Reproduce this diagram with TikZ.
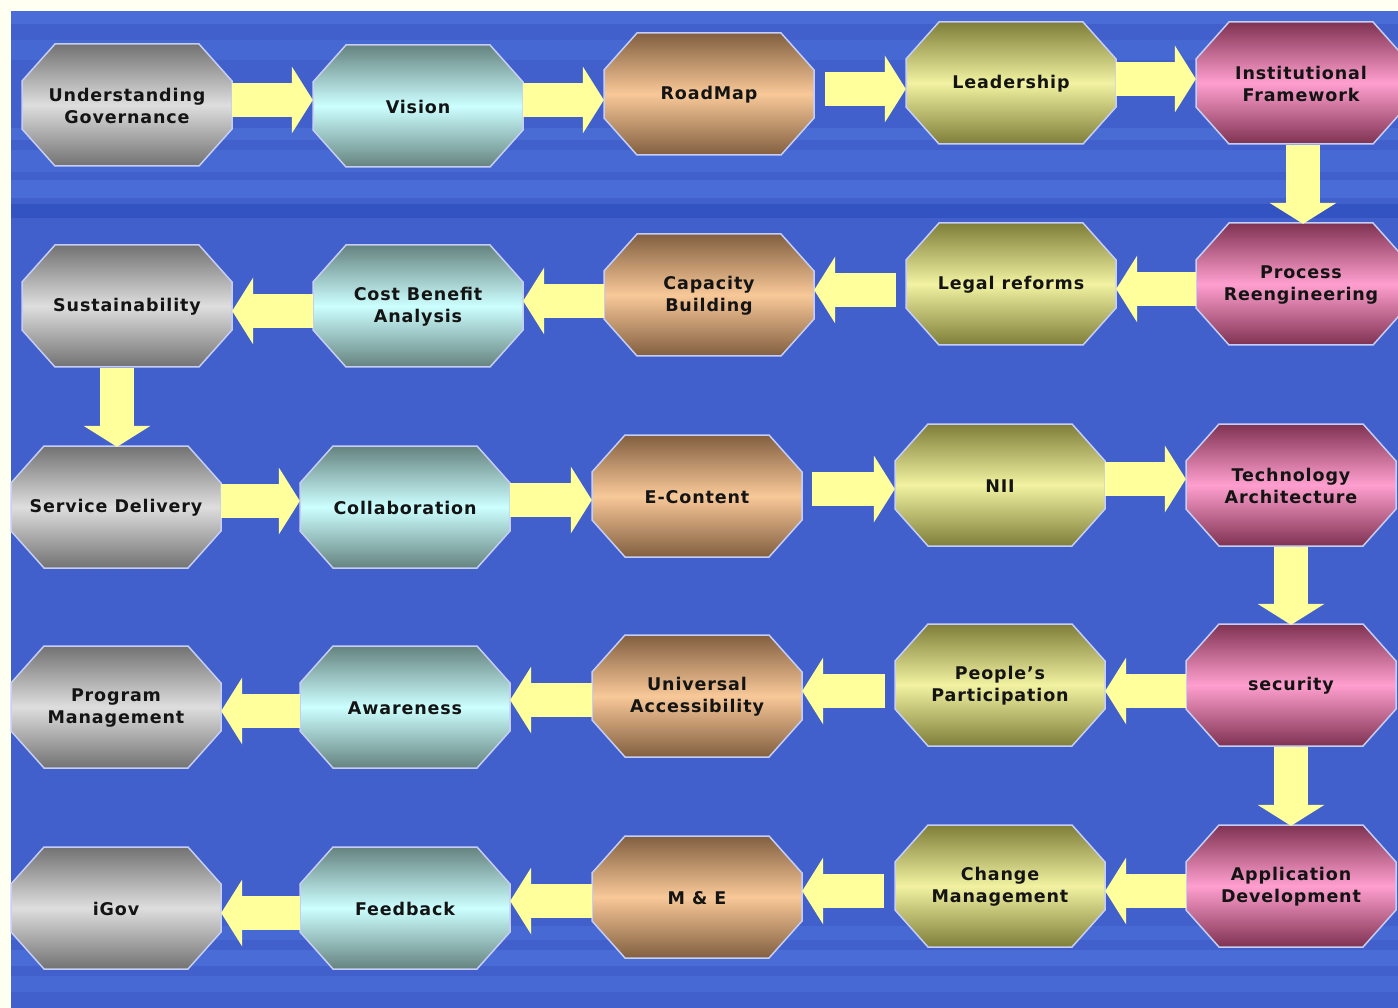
\documentclass[tikz,border=0pt]{standalone}
\usepackage{fontspec}
\setmainfont{DejaVu Sans}[LetterSpace=5]
\usetikzlibrary{arrows.meta}
\definecolor{cream}{HTML}{FFFFF2}
\definecolor{bgblue}{HTML}{4160CC}
\definecolor{bglight}{HTML}{4B6FD8}
\definecolor{bgdark}{HTML}{3453C2}
\definecolor{arrowyel}{HTML}{FFFF9C}
\definecolor{bordc}{HTML}{C6CEF6}
\definecolor{grayE}{HTML}{727272}\definecolor{grayM}{HTML}{DEDEDE}
\definecolor{cyanE}{HTML}{65837F}\definecolor{cyanM}{HTML}{CCFFFF}
\definecolor{tanE}{HTML}{825F40}\definecolor{tanM}{HTML}{F8C898}
\definecolor{oliveE}{HTML}{7E7E39}\definecolor{oliveM}{HTML}{F2F2A2}
\definecolor{pinkE}{HTML}{7F3251}\definecolor{pinkM}{HTML}{FF9FCF}
\tikzset{
  octgray/.style={draw=bordc,line width=1.5pt,top color=grayE,bottom color=grayE,middle color=grayM},
  octcyan/.style={draw=bordc,line width=1.5pt,top color=cyanE,bottom color=cyanE,middle color=cyanM},
  octtan/.style={draw=bordc,line width=1.5pt,top color=tanE,bottom color=tanE,middle color=tanM},
  octolive/.style={draw=bordc,line width=1.5pt,top color=oliveE,bottom color=oliveE,middle color=oliveM},
  octpink/.style={draw=bordc,line width=1.5pt,top color=pinkE,bottom color=pinkE,middle color=pinkM},
  lbl/.style={rectangle,minimum width=210pt,minimum height=122pt,inner sep=0pt,align=center,
    font=\bfseries\fontsize{17.5}{22}\selectfont,text=black!92},
  yarr/.style={draw=arrowyel,line width=34pt,-{Triangle[length=21pt,width=67pt,line width=0pt]}},
}
\newcommand\octa[5]{%
  \path[#4] (#2-105,#3-24) -- (#2-72,#3-61) -- (#2+72,#3-61) -- (#2+105,#3-24)
     -- (#2+105,#3+24) -- (#2+72,#3+61) -- (#2-72,#3+61) -- (#2-105,#3+24) -- cycle;
  \node[lbl] (#1) at (#2,#3+1) {#5};
}
\begin{document}
\begin{tikzpicture}[x=1pt,y=-1pt]
\clip (0,0) rectangle (1398,1008);
\fill[cream] (0,0) rectangle (1398,1008);
% background panel
\fill[bgblue] (11,11) rectangle (1398,1008);
\fill[bglight!80!bgblue] (11,11) rectangle (1398,24);
\fill[bglight!55!bgblue] (11,40) rectangle (1398,60);
\fill[bglight!70!bgblue] (11,128) rectangle (1398,140);
\fill[bglight!60!bgblue] (11,150) rectangle (1398,172);
\fill[bglight!80!bgblue] (11,180) rectangle (1398,198);
\fill[bgdark] (11,204) rectangle (1398,218);
\fill[bglight!60!bgblue] (11,926) rectangle (1398,940);
\fill[bglight!80!bgblue] (11,950) rectangle (1398,966);
\fill[bglight!60!bgblue] (11,976) rectangle (1398,992);
% row 1
\octa{ug}{127}{105}{octgray}{Understanding\\Governance}
\octa{vis}{418}{106}{octcyan}{Vision}
\octa{rm}{709}{94}{octtan}{RoadMap}
\octa{lead}{1011}{83}{octolive}{Leadership}
\octa{inst}{1301}{83}{octpink}{Institutional\\Framework}
% row 2
\octa{sus}{127}{306}{octgray}{Sustainability}
\octa{cba}{418}{306}{octcyan}{Cost Benefit\\Analysis}
\octa{cap}{709}{295}{octtan}{Capacity\\Building}
\octa{leg}{1011}{284}{octolive}{Legal reforms}
\octa{pr}{1301}{284}{octpink}{Process\\Reengineering}
% row 3
\octa{sd}{116}{507}{octgray}{Service Delivery}
\octa{col}{405}{507}{octcyan}{Collaboration}
\octa{ec}{697}{496}{octtan}{E-Content}
\octa{nii}{1000}{485}{octolive}{NII}
\octa{ta}{1291}{485}{octpink}{Technology\\Architecture}
% row 4
\octa{pm}{116}{707}{octgray}{Program\\Management}
\octa{aw}{405}{707}{octcyan}{Awareness}
\octa{ua}{697}{696}{octtan}{Universal\\Accessibility}
\octa{pp}{1000}{685}{octolive}{People’s\\Participation}
\octa{sec}{1291}{685}{octpink}{security}
% row 5
\octa{ig}{116}{908}{octgray}{iGov}
\octa{fb}{405}{908}{octcyan}{Feedback}
\octa{me}{697}{897}{octtan}{M \& E}
\octa{cm}{1000}{886}{octolive}{Change\\Management}
\octa{ad}{1291}{886}{octpink}{Application\\Development}
% arrows row 1
\draw[yarr] (ug.east |- 0,100) -- (vis.west |- 0,100);
\draw[yarr] (vis.east |- 0,100) -- (rm.west |- 0,100);
\draw[yarr,shorten <=11pt] (rm.east |- 0,89) -- (lead.west |- 0,89);
\draw[yarr] (lead.east |- 0,79) -- (inst.west |- 0,79);
\draw[yarr] (inst.south -| 1303,0) -- (pr.north -| 1303,0);
% row 2
\draw[yarr] (pr.west |- 0,289) -- (leg.east |- 0,289);
\draw[yarr,shorten <=10pt] (leg.west |- 0,290) -- (cap.east |- 0,290);
\draw[yarr] (cap.west |- 0,301) -- (cba.east |- 0,301);
\draw[yarr] (cba.west |- 0,311) -- (sus.east |- 0,311);
\draw[yarr] (sus.south -| 117,0) -- (sd.north -| 117,0);
% row 3
\draw[yarr] (sd.east |- 0,501) -- (col.west |- 0,501);
\draw[yarr] (col.east |- 0,500) -- (ec.west |- 0,500);
\draw[yarr,shorten <=10pt] (ec.east |- 0,489) -- (nii.west |- 0,489);
\draw[yarr] (nii.east |- 0,479) -- (ta.west |- 0,479);
\draw[yarr] (ta.south -| 1291,0) -- (sec.north -| 1291,0);
% row 4
\draw[yarr] (sec.west |- 0,691) -- (pp.east |- 0,691);
\draw[yarr,shorten <=10pt] (pp.west |- 0,691) -- (ua.east |- 0,691);
\draw[yarr] (ua.west |- 0,700) -- (aw.east |- 0,700);
\draw[yarr] (aw.west |- 0,711) -- (pm.east |- 0,711);
\draw[yarr] (sec.south -| 1291,0) -- (ad.north -| 1291,0);
% row 5
\draw[yarr] (ad.west |- 0,891) -- (cm.east |- 0,891);
\draw[yarr,shorten <=11pt] (cm.west |- 0,891) -- (me.east |- 0,891);
\draw[yarr] (me.west |- 0,901) -- (fb.east |- 0,901);
\draw[yarr] (fb.west |- 0,913) -- (ig.east |- 0,913);
\end{tikzpicture}
\end{document}
